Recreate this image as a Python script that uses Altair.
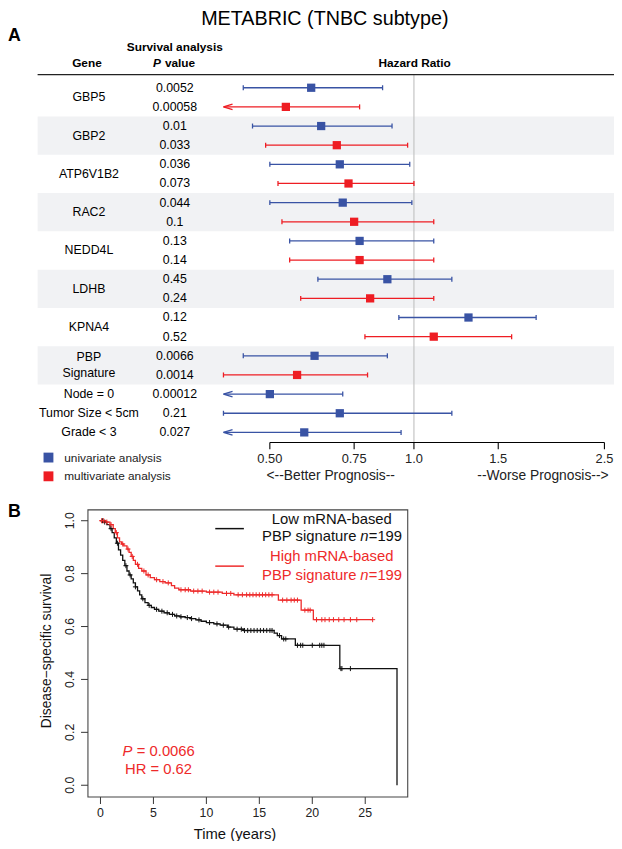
import altair as alt
import pandas as pd
import numpy as np

FONT = "Liberation Sans, Arial, sans-serif"
BLUE = "#3953A4"
RED = "#EE1D23"
KM_RED = "#EE2A2A"

# ---------------- Panel A data ----------------
gene_labels = ["GBP5", "GBP2", "ATP6V1B2", "RAC2", "NEDD4L", "LDHB", "KPNA4",
               "PBP\nSignature", "Node = 0", "Tumor Size < 5cm", "Grade < 3"]
gene_nrows = [2, 2, 2, 2, 2, 2, 2, 2, 1, 1, 1]
gene_shaded = [False, True, False, True, False, True, False, True, False, False, False]
analysis = ["univariate", "multivariate"] * 8 + ["univariate"] * 3
p_values = ["0.0052", "0.00058", "0.01", "0.033", "0.036", "0.073", "0.044", "0.1",
            "0.13", "0.14", "0.45", "0.24", "0.12", "0.52", "0.0066", "0.0014",
            "0.00012", "0.21", "0.027"]
hr = [0.61, 0.54, 0.64, 0.69, 0.70, 0.73, 0.71, 0.75, 0.77, 0.77, 0.88, 0.81,
      1.30, 1.10, 0.62, 0.57, 0.50, 0.70, 0.59]
ci_low = [0.44, 0.37, 0.46, 0.49, 0.50, 0.52, 0.50, 0.53, 0.55, 0.55, 0.63, 0.58,
          0.93, 0.79, 0.44, 0.40, 0.33, 0.40, 0.36]
ci_high = [0.86, 0.77, 0.90, 0.97, 0.98, 1.00, 0.99, 1.10, 1.10, 1.10, 1.20, 1.10,
           1.80, 1.60, 0.88, 0.80, 0.71, 1.20, 0.94]
hr_ticks = [0.5, 0.75, 1.0, 1.5, 2.5]
hr_tick_labels = ["0.50", "0.75", "1.0", "1.5", "2.5"]
legend_labels = ["univariate analysis", "multivariate analysis"]
HR_MIN = 0.4

# ---------------- Panel B data ----------------
low_time = [0, 0.3, 0.6, 0.9, 1.1, 1.3, 1.5, 1.7, 1.9, 2.1, 2.3, 2.5, 2.7, 2.9, 3.1,
            3.3, 3.5, 3.7, 3.9, 4.2, 4.5, 4.8, 5.1, 5.5, 6.0, 6.5, 7.0, 7.5, 8.0, 8.5,
            9.0, 9.5, 10.0, 10.7, 11.3, 12.0, 12.6, 13.5, 16.4, 16.7, 17.1, 18.4,
            22.6, 28.0]
low_surv = [1.0, 0.995, 0.985, 0.97, 0.955, 0.935, 0.915, 0.89, 0.87, 0.85, 0.83,
            0.81, 0.795, 0.78, 0.765, 0.75, 0.735, 0.72, 0.705, 0.69, 0.68, 0.672,
            0.665, 0.658, 0.652, 0.646, 0.64, 0.637, 0.634, 0.63, 0.625, 0.62, 0.615,
            0.61, 0.605, 0.598, 0.59, 0.585, 0.575, 0.566, 0.553, 0.529, 0.441, 0.0]
high_time = [0, 0.5, 0.9, 1.2, 1.4, 1.6, 1.8, 2.0, 2.2, 2.5, 2.7, 2.9, 3.1, 3.3, 3.6,
             3.9, 4.3, 4.7, 5.1, 5.6, 6.1, 6.7, 7.0, 7.4, 8.5, 10.0, 11.5, 12.6, 16.8,
             18.95, 20.1, 25.7]
high_surv = [1.0, 0.995, 0.985, 0.97, 0.955, 0.935, 0.92, 0.912, 0.905, 0.893, 0.88,
             0.865, 0.85, 0.835, 0.82, 0.81, 0.795, 0.785, 0.777, 0.77, 0.765, 0.755,
             0.745, 0.739, 0.734, 0.73, 0.725, 0.72, 0.70, 0.662, 0.626, 0.626]
low_censor = [0.2, 0.4, 1.0, 1.6, 2.4, 2.8, 3.3, 4.0, 4.6, 5.3, 5.8, 6.3, 6.8, 7.2, 7.6,
              8.2, 8.6, 9.3, 10.3, 11.0, 11.6, 12.1, 12.9, 13.3, 13.6, 13.9, 14.2,
              14.5, 14.8, 15.1, 15.4, 15.7, 16.0, 16.2, 16.9, 17.3, 17.5, 18.6, 18.9,
              19.1, 20.0, 20.7, 20.9, 21.1, 22.7, 22.8, 23.6]
high_censor = [0.1, 0.3, 0.6, 1.0, 1.5, 2.1, 2.6, 3.0, 3.5, 4.1, 4.5, 5.3, 5.9, 6.4,
               7.6, 8.0, 8.3, 8.8, 9.2, 9.6, 10.3, 10.7, 11.1, 11.9, 12.3, 13.0, 13.4,
               13.8, 14.1, 14.4, 14.7, 15.0, 15.3, 15.6, 15.9, 16.2, 17.2, 17.6, 18.0,
               18.3, 18.6, 19.3, 19.6, 19.8, 20.4, 20.9, 21.2, 21.6, 22.0, 22.5, 23.0,
               23.6, 24.2, 25.7]
km_xticks = [0, 5, 10, 15, 20, 25]
km_yticks = [0.0, 0.2, 0.4, 0.6, 0.8, 1.0]
km_groups = ["Low", "High"]
km_n = [199, 199]

# ---------------- tables ----------------
ROW_PX = (424.5 - 75.3) / 18.0
LINE_H = 16

rows = list(range(len(hr)))
fdf = pd.DataFrame({"row": rows, "analysis": analysis, "p": p_values, "hr": hr,
                    "lo": ci_low, "hi": ci_high})
fdf["clipped"] = fdf["lo"] < HR_MIN
fdf["lo_c"] = fdf["lo"].clip(lower=HR_MIN)
fdf["cap_lo"] = fdf["row"] - 0.13
fdf["cap_hi"] = fdf["row"] + 0.13

starts = np.cumsum([0] + gene_nrows[:-1])
gdf = pd.DataFrame({"gene": gene_labels, "start": starts, "n": gene_nrows,
                    "shaded": gene_shaded})
gdf["lines"] = gdf["gene"].str.count("\n") + 1
gdf["mid"] = gdf["start"] + (gdf["n"] - 1) / 2.0
gdf["ylab"] = gdf["mid"] - (gdf["lines"] - 1) * (LINE_H / 2.0) / ROW_PX
bdf = gdf[gdf["shaded"]].copy()
bdf["y1"] = bdf["start"] - 0.5
bdf["y2"] = bdf["start"] + bdf["n"] - 0.5

xs = alt.Scale(type="log", domain=[HR_MIN, 2.5], range=[218.3, 604.3], nice=False, zero=False)
ys = alt.Scale(domain=[0, 18], range=[75.3, 424.5], nice=False, zero=False)
cs = alt.Scale(domain=["univariate", "multivariate"], range=[BLUE, RED])


def X(f):
    return alt.X(f, type="quantitative", scale=xs, axis=None)


def Y(f):
    return alt.Y(f, type="quantitative", scale=ys, axis=None)


COL = alt.Color("analysis:N", scale=cs, legend=None)
one = pd.DataFrame({"k": [0]})

bands = alt.Chart(bdf).mark_rect(color="#F1F2F4").encode(
    x=alt.value(30), x2=alt.value(614), y=Y("y1"), y2=alt.Y2("y2"))
vline = alt.Chart(pd.DataFrame({"v": [1.0]})).mark_rule(color="#C4C4C4", strokeWidth=1.2).encode(
    x=X("v"), y=alt.value(62), y2=alt.value(434.7))
header_line = alt.Chart(one).mark_rule(color="#222222", strokeWidth=1.2).encode(
    x=alt.value(30), x2=alt.value(614), y=alt.value(62))
bars = alt.Chart(fdf).mark_rule(strokeWidth=1.3).encode(
    x=X("lo_c"), x2=alt.X2("hi"), y=Y("row"), color=COL)
caps_hi = alt.Chart(fdf).mark_rule(strokeWidth=1.3).encode(
    x=X("hi"), y=Y("cap_lo"), y2=alt.Y2("cap_hi"), color=COL)
caps_lo = alt.Chart(fdf[~fdf["clipped"]]).mark_rule(strokeWidth=1.3).encode(
    x=X("lo"), y=Y("cap_lo"), y2=alt.Y2("cap_hi"), color=COL)
arrows = alt.Chart(fdf[fdf["clipped"]]).mark_point(
    shape="M0,0L2.3,-0.7M0,0L2.3,0.7", size=64, strokeWidth=1.4, opacity=1, filled=False
).encode(x=X("lo_c"), y=Y("row"), color=COL)
squares = alt.Chart(fdf).mark_square(size=70, opacity=1).encode(
    x=X("hr"), y=Y("row"), color=COL)
gene_text = alt.Chart(gdf).mark_text(fontSize=12.5, font=FONT, lineBreak="\n",
                                     lineHeight=LINE_H, baseline="middle", align="center",
                                     color="black").encode(
    text="gene:N", x=alt.value(82), y=Y("ylab"))
p_text = alt.Chart(fdf).mark_text(fontSize=12.5, font=FONT, baseline="middle",
                                  align="center", color="black").encode(
    text="p:N", x=alt.value(169), y=Y("row"))
axis_line = alt.Chart(pd.DataFrame({"a": [hr_ticks[0]], "b": [hr_ticks[-1]]})).mark_rule(
    color="black", strokeWidth=1.1).encode(x=X("a"), x2=alt.X2("b"), y=alt.value(434.7))
tdf = pd.DataFrame({"t": hr_ticks, "lab": hr_tick_labels})
axis_ticks = alt.Chart(tdf).mark_rule(color="black", strokeWidth=1.1).encode(
    x=X("t"), y=alt.value(434.7), y2=alt.value(441.5))
axis_labels = alt.Chart(tdf).mark_text(fontSize=13, font=FONT, baseline="middle",
                                       color="#222222").encode(
    text="lab:N", x=X("t"), y=alt.value(452))

forest = alt.layer(bands, vline, header_line, bars, caps_hi, caps_lo, arrows, squares,
                   gene_text, p_text, axis_line, axis_ticks, axis_labels)

# ---------------- KM ----------------
def step_lookup(times, survs, t):
    idx = np.searchsorted(np.array(times), np.array(t), side="right") - 1
    return np.array(survs)[idx]


kmdf = pd.concat([
    pd.DataFrame({"time": low_time, "surv": low_surv, "group": "Low"}),
    pd.DataFrame({"time": high_time, "surv": high_surv, "group": "High"}),
])
cdf = pd.concat([
    pd.DataFrame({"time": low_censor, "surv": step_lookup(low_time, low_surv, low_censor), "group": "Low"}),
    pd.DataFrame({"time": high_censor, "surv": step_lookup(high_time, high_surv, high_censor), "group": "High"}),
])
kxs = alt.Scale(domain=[0, 25], range=[93.7, 361.95], nice=False, zero=False)
kys = alt.Scale(domain=[0, 1], range=[782, 514], nice=False, zero=False)
kcs = alt.Scale(domain=["Low", "High"], range=["#111111", KM_RED])
KC = alt.Color("group:N", scale=kcs, legend=None)


def KX(f):
    return alt.X(f, type="quantitative", scale=kxs, axis=None)


def KY(f):
    return alt.Y(f, type="quantitative", scale=kys, axis=None)


km_box = alt.Chart(one).mark_rect(fill=None, stroke="#444444", strokeWidth=1.1).encode(
    x=alt.value(81), x2=alt.value(405), y=alt.value(503), y2=alt.value(794))
km_lines = alt.Chart(kmdf).mark_line(interpolate="step-after", strokeWidth=1.3).encode(
    x=KX("time"), y=KY("surv"), color=KC, detail="group:N")
km_cens = alt.Chart(cdf).mark_point(shape="M-1,0L1,0M0,-1L0,1", size=26, strokeWidth=1,
                                    opacity=1, filled=False).encode(
    x=KX("time"), y=KY("surv"), color=KC)
kxt = pd.DataFrame({"t": km_xticks, "lab": [str(v) for v in km_xticks]})
kyt = pd.DataFrame({"t": km_yticks, "lab": [f"{v:.1f}" for v in km_yticks]})
km_xt = alt.Chart(kxt).mark_rule(color="#333333", strokeWidth=1).encode(
    x=KX("t"), y=alt.value(794), y2=alt.value(801))
km_xl = alt.Chart(kxt).mark_text(fontSize=12.5, font=FONT, baseline="middle",
                                 color="#222222").encode(
    text="lab:N", x=KX("t"), y=alt.value(810))
km_yt = alt.Chart(kyt).mark_rule(color="#333333", strokeWidth=1).encode(
    y=KY("t"), x=alt.value(74), x2=alt.value(81))
km_yl = alt.Chart(kyt).mark_text(fontSize=12.5, font=FONT, baseline="middle",
                                 align="center", angle=270, color="#222222").encode(
    text="lab:N", y=KY("t"), x=alt.value(63))

km = alt.layer(km_box, km_lines, km_cens, km_xt, km_xl, km_yt, km_yl)


# ---------------- free text ----------------
def txt(s, x, y, size=12.5, weight="normal", style="normal", align="center",
        color="black", angle=0):
    return alt.Chart(pd.DataFrame({"t": [s]})).mark_text(
        fontSize=size, fontWeight=weight, fontStyle=style, align=align,
        baseline="middle", color=color, angle=angle, font=FONT).encode(
        text="t:N", x=alt.value(x), y=alt.value(y))


texts = [
    txt("METABRIC (TNBC subtype)", 321, 6, size=20),
    txt("A", 0, 23, size=18, weight="bold", align="left"),
    txt("B", 0, 505, size=18, weight="bold", align="left"),
    txt("Survival analysis", 169, 34, size=12, weight="bold"),
    txt("Gene", 80, 50, size=12, weight="bold"),
    txt("P", 155, 50, size=12, weight="bold", style="italic", align="right"),
    txt("value", 159, 50, size=12, weight="bold", align="left"),
    txt("Hazard Ratio", 412, 50, size=12, weight="bold"),
    txt("<--Better Prognosis--", 327, 469, size=14, color="#222222"),
    txt("--Worse Prognosis-->", 542, 469, size=14, color="#222222"),
    txt(legend_labels[0], 57, 450, size=12, align="left", color="#222222"),
    txt(legend_labels[1], 57, 469, size=12, align="left", color="#222222"),
    # KM legend
    txt(f"{km_groups[0]} mRNA-based", 328, 512, size=15, color="#111111"),
    txt("PBP signature", 353, 530, size=15, color="#111111", align="right"),
    txt("n", 357, 530, size=15, color="#111111", style="italic", align="left"),
    txt(f"={km_n[0]}", 365.5, 530, size=15, color="#111111", align="left"),
    txt(f"{km_groups[1]} mRNA-based", 328, 550, size=15, color=KM_RED),
    txt("PBP signature", 353, 569, size=15, color=KM_RED, align="right"),
    txt("n", 357, 569, size=15, color=KM_RED, style="italic", align="left"),
    txt(f"={km_n[1]}", 365.5, 569, size=15, color=KM_RED, align="left"),
    txt("P", 116, 747, size=15, color=KM_RED, style="italic", align="left"),
    txt("= 0.0066", 130.5, 747, size=15, color=KM_RED, align="left"),
    txt("HR = 0.62", 152.5, 766, size=15, color=KM_RED),
    txt("Time (years)", 230, 831, size=15, color="#111111"),
    txt("Disease\u2212specific survival", 40, 646, size=14, color="#111111", angle=270),
]

legend_sq = [
    alt.Chart(pd.DataFrame({"analysis": [a]})).mark_square(size=100, opacity=1).encode(
        x=alt.value(41), y=alt.value(yy), color=alt.Color("analysis:N", scale=alt.Scale(
            domain=["univariate", "multivariate"], range=[BLUE, RED]), legend=None))
    for a, yy in zip(["univariate", "multivariate"], [450, 469])
]
km_leg = [
    alt.Chart(one).mark_rule(color=c, strokeWidth=1.5).encode(
        x=alt.value(210), x2=alt.value(239), y=alt.value(yy))
    for c, yy in zip(["#111111", KM_RED], [522, 560])
]

chart = alt.layer(forest, km, *legend_sq, *km_leg, *texts).resolve_scale(
    x="independent", y="independent", color="independent"
).properties(
    width=614, height=833, padding=0, autosize=alt.AutoSizeParams(type="none")
).configure_view(stroke=None)

chart.save("out.html", embed_options={"renderer": "svg", "actions": False})
